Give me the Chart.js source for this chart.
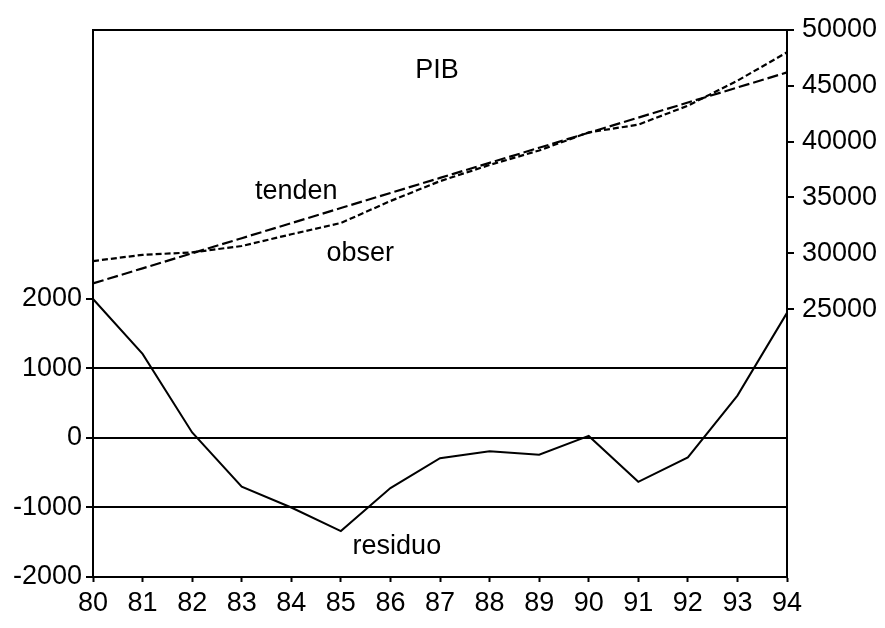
<!DOCTYPE html>
<html>
<head>
<meta charset="utf-8">
<script src="https://cdn.jsdelivr.net/npm/chart.js@4.4.1/dist/chart.umd.min.js"></script>
<style>
  html, body { margin: 0; padding: 0; background: #fff; }
  #wrap { width: 885px; height: 628px; }
</style>
</head>
<body>
<div id="wrap"><canvas id="myChart" width="885" height="628"></canvas></div>
<script>
const years = ["80", "81", "82", "83", "84", "85", "86", "87", "88", "89", "90", "91", "92", "93", "94"];
const tenden = [27300, 28650, 30000, 31350, 32700, 34050, 35400, 36750, 38100, 39450, 40800, 42150, 43500, 44850, 46200];
const obser = [29300, 29860, 30080, 30650, 31700, 32710, 34680, 36460, 37910, 39210, 40830, 41520, 43220, 45460, 48000];
const residuo = [2000, 1210, 80, -700, -1000, -1340, -720, -290, -190, -240, 30, -630, -280, 610, 1800];
const leftTicks = [-2000, -1000, 0, 1000, 2000];
const rightTicks = [25000, 30000, 35000, 40000, 45000, 50000];
const refLines = [-1000, 0, 1000];
const notes = [
  { text: "PIB", x: 6.94, y: 46400, axis: "yR" },
  { text: "tenden", x: 4.1, y: 35500, axis: "yR" },
  { text: "obser", x: 5.39, y: 30000, axis: "yR" },
  { text: "residuo", x: 6.13, y: -1560, axis: "y" }
];

const FONT = "'Liberation Sans', Arial, sans-serif";
Chart.defaults.font.family = FONT;
Chart.defaults.font.size = 27;
Chart.defaults.color = "#000";

const frame = {
  id: "frame",
  afterDatasetsDraw(chart) {
    const { ctx, chartArea: a, scales } = chart;
    ctx.save();
    ctx.strokeStyle = "#000";
    ctx.lineWidth = 2;
    ctx.strokeRect(a.left, a.top, a.right - a.left, a.bottom - a.top);
    ctx.font = "27px " + FONT;
    ctx.fillStyle = "#000";
    ctx.textAlign = "center";
    ctx.textBaseline = "middle";
    notes.forEach(n => {
      ctx.fillText(n.text, scales.x.getPixelForValue(n.x), scales[n.axis].getPixelForValue(n.y));
    });
    ctx.restore();
  }
};

const ctx = document.getElementById("myChart");

new Chart(ctx, {
  type: "line",
  data: {
    labels: years,
    datasets: [
      {
        label: "tenden",
        data: tenden,
        yAxisID: "yR",
        borderColor: "#000",
        borderWidth: 2.2,
        borderDash: [11, 4],
        pointRadius: 0,
        tension: 0
      },
      {
        label: "obser",
        data: obser,
        yAxisID: "yR",
        borderColor: "#000",
        borderWidth: 2.2,
        borderDash: [6, 3],
        pointRadius: 0,
        tension: 0
      },
      {
        label: "residuo",
        data: residuo,
        yAxisID: "y",
        borderColor: "#000",
        borderWidth: 2,
        pointRadius: 0,
        tension: 0
      }
    ]
  },
  options: {
    responsive: false,
    animation: false,
    layout: { padding: { top: 30, left: 0, right: 0, bottom: 0 } },
    plugins: {
      legend: { display: false },
      tooltip: { enabled: false }
    },
    scales: {
      x: {
        type: "category",
        offset: false,
        grid: { color: "transparent", tickColor: "#000", tickLength: 5, tickWidth: 2 },
        border: { color: "#000", width: 2 },
        ticks: { padding: 5, maxRotation: 0, autoSkip: false },
        afterFit: s => { s.height = 51; }
      },
      y: {
        position: "left",
        min: -2000,
        max: 5870,
        afterBuildTicks: s => { s.ticks = leftTicks.map(v => ({ value: v })); },
        grid: {
          color: c => (c.tick && refLines.includes(c.tick.value)) ? "#000" : "transparent",
          lineWidth: 2,
          tickColor: "#000",
          tickLength: 7
        },
        border: { color: "#000", width: 2 },
        ticks: { padding: 4, callback: v => String(v) },
        afterFit: s => { s.width = 93; }
      },
      yR: {
        position: "right",
        min: 1000,
        max: 50000,
        afterBuildTicks: s => { s.ticks = rightTicks.map(v => ({ value: v })); },
        grid: { drawOnChartArea: false, tickColor: "#000", tickLength: 7, lineWidth: 2 },
        border: { color: "#000", width: 2 },
        ticks: { padding: 8, callback: v => String(v) },
        afterFit: s => { s.width = 98; }
      }
    }
  },
  plugins: [frame]
});
</script>
</body>
</html>
